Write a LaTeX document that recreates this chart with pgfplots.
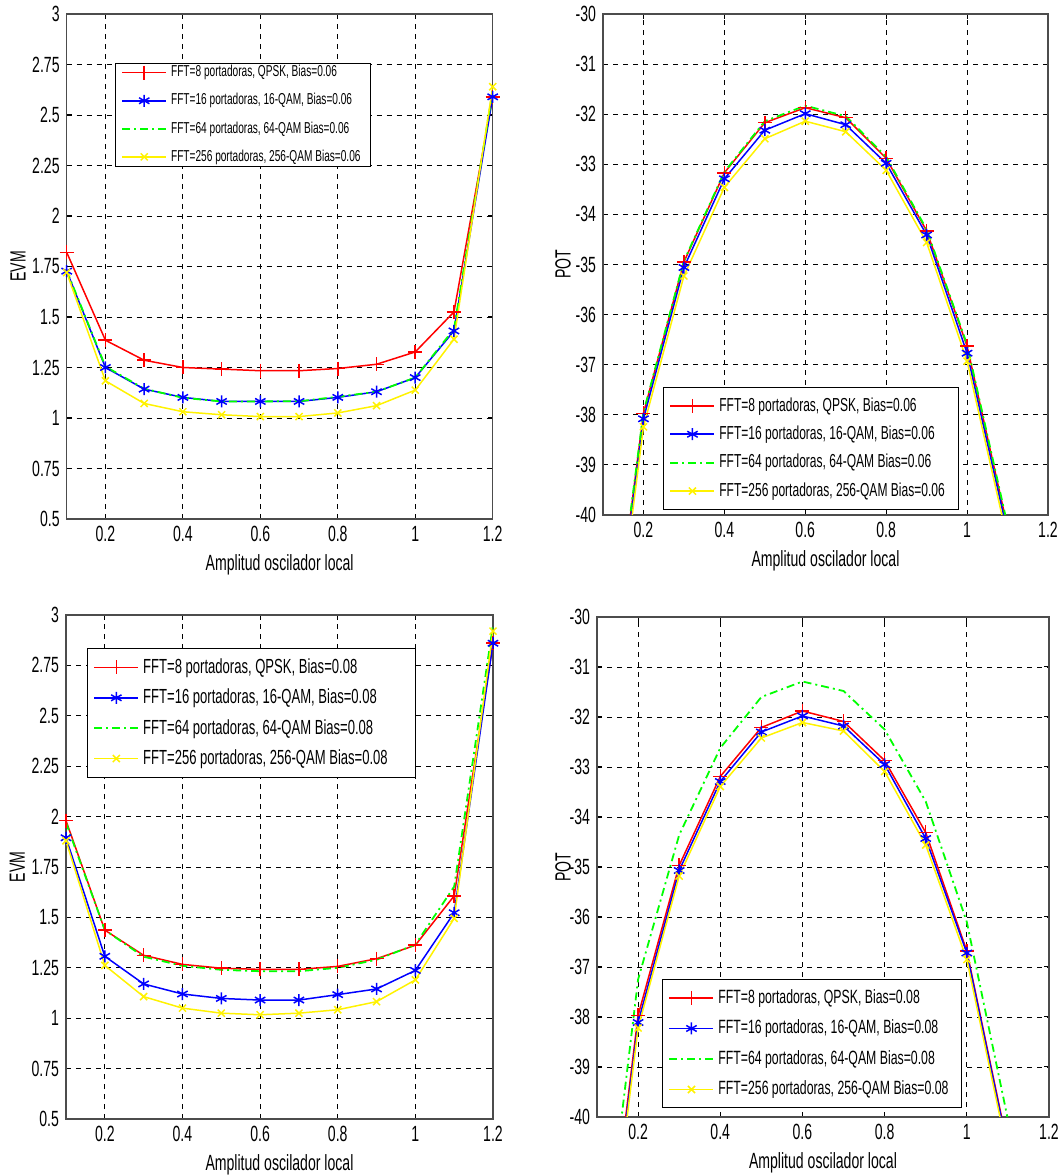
\documentclass[border=0pt]{standalone}
\usepackage{fontspec}
\setmainfont[FakeStretch=0.64]{Liberation Sans}
\usepackage{pgfplots}
\pgfplotsset{compat=1.18}
\pgfplotsset{
  mstyle/.style={
    scale only axis,
    xmin=0.1, xmax=1.2,
    xtick={0.2,0.4,0.6,0.8,1,1.2},
    xticklabels={0.2,0.4,0.6,0.8,1,1.2},
    grid=major,
    major grid style={black, line width=0.45pt, dash pattern=on 2.5pt off 2.5pt},
    axis line style={draw=black!70, line width=0.7pt},
    tick align=inside,
    major tick length=2.5pt,
    tick style={black, line width=0.5pt},
    /pgf/number format/assume math mode=true,
    ticklabel style={font=\fontsize{11}{13}\selectfont},
    label style={font=\fontsize{11}{13}\selectfont},
    xlabel={Amplitud oscilador local},
    xlabel style={at={(axis description cs:0.5,-0.091)}, anchor=center},
    legend cell align=left,
    legend image code/.code={\draw[mark repeat=2,mark phase=2,##1] plot coordinates {(0pt,0pt) (11pt,0pt) (22pt,0pt)};},
    legend style={draw=black, line width=0.5pt, fill=white, inner xsep=3pt, inner ysep=3pt, anchor=north west},
  },
  evm/.style={
    ymin=0.5, ymax=3,
    ytick={0.5,0.75,1,1.25,1.5,1.75,2,2.25,2.5,2.75,3},
    yticklabels={0.5,0.75,1,1.25,1.5,1.75,2,2.25,2.5,2.75,3},
    ylabel={EVM},
  },
  pot/.style={
    ymin=-40, ymax=-30,
    ytick={-40,-39,-38,-37,-36,-35,-34,-33,-32,-31,-30},
    yticklabels={-40,-39,-38,-37,-36,-35,-34,-33,-32,-31,-30},
    ylabel={POT},
  },
  sred/.style={color=red, line width=0.75pt, mark=+, mark size=3.5pt, mark options={solid}},
  sblue/.style={color=blue, line width=0.75pt, mark=asterisk, mark size=3pt, mark options={solid}},
  sgreen/.style={color=green, line width=0.9pt, no marks, dash pattern=on 4pt off 2pt on 1pt off 2pt},
  syellow/.style={color=yellow, line width=0.75pt, mark=x, mark size=2.5pt, mark options={solid}},
}
\begin{document}
\begin{tikzpicture}
\useasboundingbox (0,0) rectangle (531pt,587.5pt);

% Top-left
\begin{axis}[mstyle, evm, at={(33.35pt,328pt)}, anchor=south west, width=213pt, height=252.5pt,
  ylabel style={at={(axis description cs:-0.114,0.5)}, anchor=center},
  legend style={at={(axis description cs:0.113,0.903)}, font=\fontsize{7.9}{9.5}\selectfont, inner ysep=0pt, nodes={inner ysep=1pt}, row sep=4.8pt}]
\addplot[sred] coordinates {(0.1,1.82) (0.2,1.385) (0.3,1.286) (0.4,1.25) (0.5,1.242) (0.6,1.234) (0.7,1.234) (0.8,1.245) (0.9,1.266) (1.0,1.327) (1.1,1.525) (1.2,2.59)};
\addlegendentry{FFT=8 portadoras, QPSK, Bias=0.06\hspace*{12pt}}
\addplot[sblue] coordinates {(0.1,1.727) (0.2,1.25) (0.3,1.143) (0.4,1.102) (0.5,1.082) (0.6,1.082) (0.7,1.082) (0.8,1.102) (0.9,1.13) (1.0,1.20) (1.1,1.431) (1.2,2.59)};
\addlegendentry{FFT=16 portadoras, 16-QAM, Bias=0.06}
\addplot[sgreen] coordinates {(0.1,1.73) (0.2,1.255) (0.3,1.145) (0.4,1.10) (0.5,1.082) (0.6,1.082) (0.7,1.083) (0.8,1.105) (0.9,1.13) (1.0,1.20) (1.1,1.44) (1.2,2.62)};
\addlegendentry{FFT=64 portadoras, 64-QAM Bias=0.06}
\addplot[syellow] coordinates {(0.1,1.72) (0.2,1.184) (0.3,1.072) (0.4,1.031) (0.5,1.016) (0.6,1.007) (0.7,1.007) (0.8,1.025) (0.9,1.061) (1.0,1.138) (1.1,1.39) (1.2,2.64)};
\addlegendentry{FFT=256 portadoras, 256-QAM Bias=0.06}
\end{axis}

% Top-right
\begin{axis}[mstyle, pot, at={(301.5pt,330pt)}, anchor=south west, width=222.5pt, height=250.5pt,
  ylabel style={at={(axis description cs:-0.09,0.5)}, anchor=center},
  legend style={at={(axis description cs:0.135,0.2555)}, font=\fontsize{9.4}{11.3}\selectfont, row sep=1.9pt}]
\addplot[sred] coordinates {(0.1,-44.3) (0.2,-37.97) (0.3,-34.95) (0.4,-33.17) (0.5,-32.17) (0.6,-31.87) (0.7,-32.07) (0.8,-32.88) (0.9,-34.33) (1.0,-36.63) (1.1,-40.25)};
\addlegendentry{FFT=8 portadoras, QPSK, Bias=0.06\hspace*{16pt}}
\addplot[sblue] coordinates {(0.1,-44.4) (0.2,-38.08) (0.3,-35.06) (0.4,-33.29) (0.5,-32.32) (0.6,-31.99) (0.7,-32.21) (0.8,-32.98) (0.9,-34.41) (1.0,-36.77) (1.1,-40.35)};
\addlegendentry{FFT=16 portadoras, 16-QAM, Bias=0.06}
\addplot[sgreen] coordinates {(0.1,-44.2) (0.2,-37.95) (0.3,-34.93) (0.4,-33.15) (0.5,-32.14) (0.6,-31.83) (0.7,-32.04) (0.8,-32.85) (0.9,-34.3) (1.0,-36.6) (1.1,-40.2)};
\addlegendentry{FFT=64 portadoras, 64-QAM Bias=0.06}
\addplot[syellow] coordinates {(0.1,-44.6) (0.2,-38.24) (0.3,-35.23) (0.4,-33.46) (0.5,-32.49) (0.6,-32.14) (0.7,-32.35) (0.8,-33.12) (0.9,-34.56) (1.0,-36.93) (1.1,-40.5)};
\addlegendentry{FFT=256 portadoras, 256-QAM Bias=0.06}
\end{axis}

% Bottom-left
\begin{axis}[mstyle, evm, at={(33pt,28pt)}, anchor=south west, width=213.5pt, height=252pt,
  ylabel style={at={(axis description cs:-0.114,0.5)}, anchor=center},
  legend style={at={(axis description cs:0.049,0.9345)}, font=\fontsize{10.2}{12.2}\selectfont, row sep=2.3pt}]
\addplot[sred] coordinates {(0.1,1.98) (0.2,1.437) (0.3,1.312) (0.4,1.267) (0.5,1.248) (0.6,1.242) (0.7,1.242) (0.8,1.257) (0.9,1.295) (1.0,1.362) (1.1,1.607) (1.2,2.86)};
\addlegendentry{FFT=8 portadoras, QPSK, Bias=0.08}
\addplot[sblue] coordinates {(0.1,1.895) (0.2,1.307) (0.3,1.17) (0.4,1.12) (0.5,1.098) (0.6,1.09) (0.7,1.09) (0.8,1.117) (0.9,1.145) (1.0,1.237) (1.1,1.523) (1.2,2.86)};
\addlegendentry{FFT=16 portadoras, 16-QAM, Bias=0.08}
\addplot[sgreen] coordinates {(0.1,1.97) (0.2,1.437) (0.3,1.305) (0.4,1.26) (0.5,1.24) (0.6,1.233) (0.7,1.233) (0.8,1.25) (0.9,1.29) (1.0,1.365) (1.1,1.653) (1.2,2.95)};
\addlegendentry{FFT=64 portadoras, 64-QAM Bias=0.08}
\addplot[syellow] coordinates {(0.1,1.88) (0.2,1.262) (0.3,1.107) (0.4,1.05) (0.5,1.025) (0.6,1.017) (0.7,1.025) (0.8,1.042) (0.9,1.082) (1.0,1.19) (1.1,1.495) (1.2,2.92)};
\addlegendentry{FFT=256 portadoras, 256-QAM Bias=0.08\hspace*{9pt}}
\end{axis}

% Bottom-right
\begin{axis}[mstyle, pot, at={(298.5pt,29pt)}, anchor=south west, width=226pt, height=250pt,
  ylabel style={at={(axis description cs:-0.075,0.5)}, anchor=center},
  legend style={at={(axis description cs:0.144,0.276)}, font=\fontsize{9.6}{11.5}\selectfont, row sep=2.8pt}]
\addplot[sred] coordinates {(0.1,-44.7) (0.2,-37.97) (0.3,-34.97) (0.4,-33.19) (0.5,-32.21) (0.6,-31.88) (0.7,-32.09) (0.8,-32.87) (0.9,-34.31) (1.0,-36.68) (1.1,-40.6)};
\addlegendentry{FFT=8 portadoras, QPSK, Bias=0.08\hspace*{16pt}}
\addplot[sblue] coordinates {(0.1,-44.8) (0.2,-38.11) (0.3,-35.07) (0.4,-33.29) (0.5,-32.30) (0.6,-31.98) (0.7,-32.18) (0.8,-32.95) (0.9,-34.43) (1.0,-36.72) (1.1,-40.65)};
\addlegendentry{FFT=16 portadoras, 16-QAM, Bias=0.08}
\addplot[sgreen] coordinates {(0.1,-44.1) (0.2,-37.25) (0.3,-34.36) (0.4,-32.62) (0.5,-31.6) (0.6,-31.29) (0.7,-31.48) (0.8,-32.25) (0.9,-33.69) (1.0,-36.1) (1.1,-40.05)};
\addlegendentry{FFT=64 portadoras, 64-QAM Bias=0.08}
\addplot[syellow] coordinates {(0.1,-44.9) (0.2,-38.22) (0.3,-35.18) (0.4,-33.39) (0.5,-32.42) (0.6,-32.11) (0.7,-32.28) (0.8,-33.09) (0.9,-34.56) (1.0,-36.85) (1.1,-40.75)};
\addlegendentry{FFT=256 portadoras, 256-QAM Bias=0.08}
\end{axis}
\end{tikzpicture}
\end{document}
